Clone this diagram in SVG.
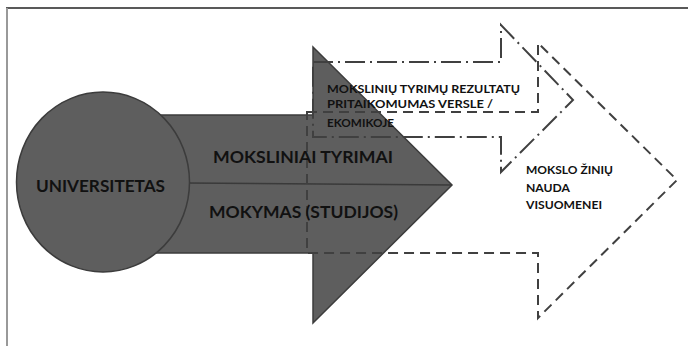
<svg xmlns="http://www.w3.org/2000/svg" width="688" height="346" viewBox="0 0 688 346">
<style>
.big{font-family:Lato,"Liberation Sans",sans-serif;font-weight:bold;font-size:17px;fill:#111}
.sm{font-family:Lato,"Liberation Sans",sans-serif;font-weight:bold;font-size:11.5px;fill:#111}
.shape{fill:#5e5e5e;stroke:#3c3c3c;stroke-width:1.5}
.dash{fill:none;stroke:#404040;stroke-width:2;stroke-dasharray:10 6}
.dashdot{fill:none;stroke:#404040;stroke-width:2;stroke-dasharray:20 5 2 5}
</style>
<rect width="688" height="346" fill="#fff"/>
<line x1="6" y1="8" x2="688" y2="8" stroke="#222" stroke-width="1.5"/>
<line x1="7" y1="8" x2="7" y2="346" stroke="#999" stroke-width="2"/>
<g id="main-arrow">
<path class="shape" d="M150,115 L313,115 L313,47 L452,185 L313,323 L313,253 L150,253 Z"/>
<line x1="186" y1="183" x2="452" y2="185" stroke="#3a3a3a" stroke-width="1.5"/>
</g>
<g id="universitetas">
<ellipse class="shape" cx="103" cy="182" rx="86.5" ry="90"/>
<text class="big" x="36" y="192" textLength="129" lengthAdjust="spacingAndGlyphs">UNIVERSITETAS</text>
</g>
<g id="connectors">
<path id="outer-dashed-arrow" class="dash" d="M307,112 L538,112 L538,43 L677,180 L538,318 L538,253 L307,253 Z"/>
<path id="dashdot-arrow" class="dashdot" d="M313,62 L501,62 L501,25 L573,100 L501,172 L501,137 L313,137 Z"/>
</g>
<g id="moksliniai-tyrimai">
<text class="big" x="213" y="163" textLength="180" lengthAdjust="spacingAndGlyphs">MOKSLINIAI TYRIMAI</text>
</g>
<g id="mokymas">
<text class="big" x="209" y="218" textLength="189" lengthAdjust="spacingAndGlyphs">MOKYMAS (STUDIJOS)</text>
</g>
<g id="pritaikomumas">
<text class="sm" x="327" y="93" textLength="193" lengthAdjust="spacingAndGlyphs">MOKSLINIŲ TYRIMŲ REZULTATŲ</text>
<text class="sm" x="327" y="108" textLength="166" lengthAdjust="spacingAndGlyphs">PRITAIKOMUMAS VERSLE  /</text>
<text class="sm" x="327" y="127" textLength="67" lengthAdjust="spacingAndGlyphs">EKOMIKOJE</text>
</g>
<g id="nauda">
<text class="sm" x="526" y="174" textLength="87" lengthAdjust="spacingAndGlyphs">MOKSLO ŽINIŲ</text>
<text class="sm" x="526" y="192" textLength="44" lengthAdjust="spacingAndGlyphs">NAUDA</text>
<text class="sm" x="526" y="209" textLength="76" lengthAdjust="spacingAndGlyphs">VISUOMENEI</text>
</g>
</svg>
